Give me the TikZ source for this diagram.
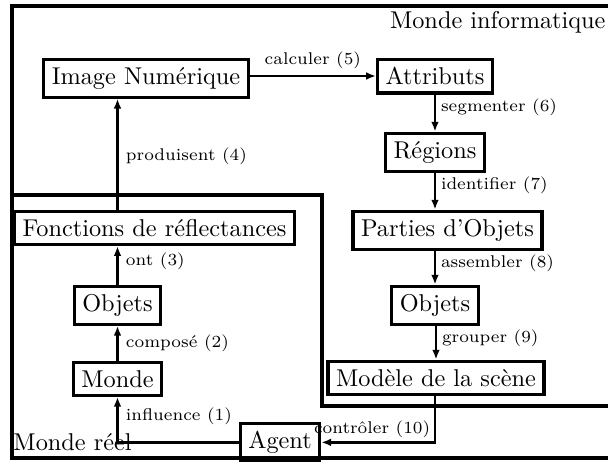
\documentclass[tikz,border=0pt]{standalone}
\usepackage{fontspec}
\usetikzlibrary{arrows.meta}
\tikzset{
  box/.style={draw, line width=1.3pt, inner sep=3.33pt, font=\normalsize},
  frame/.style={line width=1.7pt},
  arr/.style={line width=0.95pt, -{Latex[length=4pt,width=3.2pt]}},
  lbl/.style={font=\scriptsize, inner sep=2pt, anchor=west},
  world/.style={inner sep=0pt, font=\normalsize}
}
\begin{document}
\begin{tikzpicture}[x=0.41152pt, y=-0.41152pt]
  \useasboundingbox (0,0) rectangle (608,462);
  \clip (0,0) rectangle (608,462);

  % the two worlds
  \draw[frame] (640,6) -- (12,6) -- (12,458) -- (640,458);
  \draw[frame] (12,195) -- (322,195) -- (322,406) -- (640,406);
  \node[world, anchor=base east] (minfo) at (606,28) {Monde informatique};
  \node[world, anchor=base west] (mreel) at (13,450) {Monde réel};

  % computer side
  \node[box, anchor=north] (imgnum) at (146,57.5) {Image Numérique};
  \node[box, anchor=north] (attr) at (435,57.5) {Attributs};
  \node[box, anchor=north] (regions) at (435,131.5) {Régions};
  \node[box, anchor=north] (parties) at (447.5,209.5) {Parties d'Objets};
  \node[box, anchor=north] (objR) at (435,284.5) {Objets};
  \node[box, anchor=north] (modele) at (436,359.5) {Modèle de la scène};

  % real side
  \node[box, anchor=north] (fonct) at (154.5,209.5) {Fonctions de réflectances};
  \node[box, anchor=north] (objL) at (117.5,284.5) {Objets};
  \node[box, anchor=north] (monde) at (117.5,360.5) {Monde};
  \node[box, anchor=north] (agent) at (280,421.5) {Agent};

  % connectors
  \draw[arr] (imgnum.east |- attr.west) -- (attr.west)
    node[midway, above, font=\scriptsize, inner sep=2.5pt] {calculer (5)};
  \draw[arr] (attr.south) -- (regions.north)
    node[lbl, pos=0.35] {segmenter (6)};
  \draw[arr] (regions.south) -- (regions.south |- parties.north)
    node[lbl, pos=0.35] {identifier (7)};
  \draw[arr] (objR.north |- parties.south) -- (objR.north)
    node[lbl, pos=0.37] {assembler (8)};
  \draw[arr] (objR.south) -- (objR.south -| modele.north) -- (modele.north)
    node[lbl, pos=0.37] {grouper (9)};
  \draw[arr] (modele.south -| objR) |- (agent.east)
    node[pos=0.5, anchor=south east, font=\scriptsize, inner sep=1.5pt] {contrôler (10)};

  \draw[arr] (agent.west) -| (monde.south)
    node[lbl, pos=0.79, inner sep=3pt] {influence (1)};
  \draw[arr] (monde.north) -- (objL.south)
    node[lbl, pos=0.5, inner sep=3pt] {composé (2)};
  \draw[arr] (objL.north) -- (objL.north |- fonct.south)
    node[lbl, pos=0.62, inner sep=3pt] {ont (3)};
  \draw[arr] (fonct.north -| objL) -- (imgnum.south -| objL)
    node[lbl, pos=0.48, inner sep=3pt] {produisent (4)};
\end{tikzpicture}
\end{document}
